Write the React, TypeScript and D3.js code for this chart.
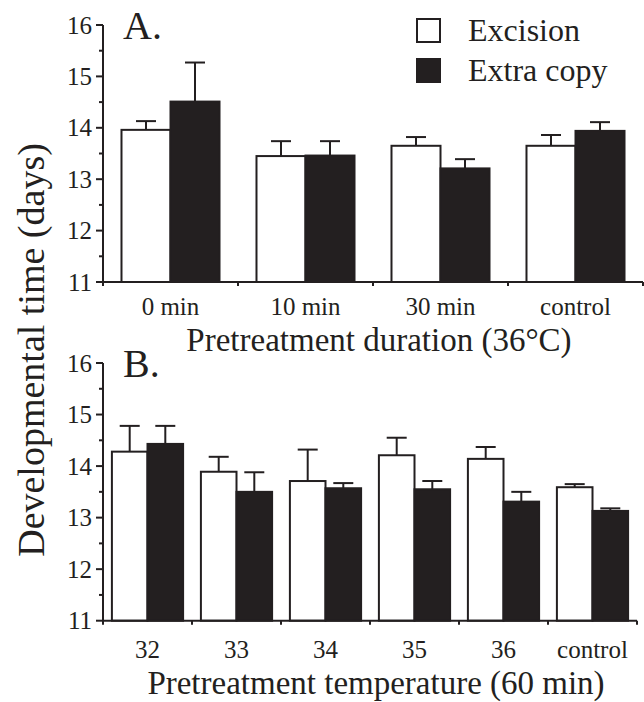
import React from 'react';
import * as d3 from 'd3';

// Panel A: pretreatment duration at 36°C
const durationCats = ['0 min', '10 min', '30 min', 'control'];
const durExcision = [13.96, 13.45, 13.65, 13.65];
const durExcisionErr = [0.17, 0.29, 0.17, 0.21];
const durExtra = [14.51, 13.46, 13.21, 13.94];
const durExtraErr = [0.76, 0.28, 0.18, 0.17];

// Panel B: pretreatment temperature for 60 min
const tempCats = ['32', '33', '34', '35', '36', 'control'];
const tempExcision = [14.28, 13.89, 13.71, 14.21, 14.14, 13.59];
const tempExcisionErr = [0.5, 0.29, 0.61, 0.34, 0.23, 0.06];
const tempExtra = [14.43, 13.5, 13.57, 13.55, 13.31, 13.13];
const tempExtraErr = [0.35, 0.38, 0.1, 0.16, 0.19, 0.05];

const yTicks = [11, 12, 13, 14, 15, 16];
const yMinor = [11.5, 12.5, 13.5, 14.5, 15.5];

const INK = '#231f20';
const FONT = '"Liberation Serif", "Times New Roman", serif';

type PanelProps = {
  cats: string[];
  exc: number[];
  excErr: number[];
  ext: number[];
  extErr: number[];
  x0: number;
  x1: number;
  top: number;
  bottom: number;
  padInner: number;
  letter: string;
  xLabel: string;
  catY: number;
  labelY: number;
};

const Panel = ({ cats, exc, excErr, ext, extErr, x0, x1, top, bottom, padInner, letter, xLabel, catY, labelY }: PanelProps) => {
  const x = d3.scaleBand<string>().domain(cats).range([x0, x1]).paddingInner(padInner).paddingOuter(padInner / 2);
  const sub = d3.scaleBand<string>().domain(['exc', 'ext']).range([0, x.bandwidth()]);
  const y = d3.scaleLinear().domain([11, 16]).range([bottom, top]);
  const step = x.step();
  const bounds = d3.range(cats.length + 1).map(i => x0 + i * step);
  const capW = 20;

  const series = [
    { key: 'exc', vals: exc, errs: excErr, fill: '#fff' },
    { key: 'ext', vals: ext, errs: extErr, fill: INK },
  ];

  return (
    <g>
      {/* error bars first so bars cover their base */}
      {series.map(s =>
        cats.map((c, i) => {
          const cx = (x(c) as number) + (sub(s.key) as number) + sub.bandwidth() / 2;
          const yt = y(s.vals[i] + s.errs[i]);
          return (
            <g key={s.key + c + 'e'} stroke={INK} strokeWidth={2}>
              <line x1={cx} x2={cx} y1={y(s.vals[i])} y2={yt} />
              <line x1={cx - capW / 2} x2={cx + capW / 2} y1={yt} y2={yt} />
            </g>
          );
        })
      )}
      {series.map(s =>
        cats.map((c, i) => (
          <rect
            key={s.key + c}
            x={(x(c) as number) + (sub(s.key) as number)}
            y={y(s.vals[i])}
            width={sub.bandwidth()}
            height={y(11) - y(s.vals[i])}
            fill={s.fill}
            stroke={INK}
            strokeWidth={2}
          />
        ))
      )}

      {/* y axis */}
      <line x1={x0} x2={x0} y1={y(16)} y2={y(11)} stroke={INK} strokeWidth={2} />
      {yTicks.map(t => (
        <g key={t}>
          <line x1={x0 - 7} x2={x0} y1={y(t)} y2={y(t)} stroke={INK} strokeWidth={2} />
          <text x={x0 - 11} y={y(t)} dy="0.34em" textAnchor="end" fontSize={25} fill={INK}>{t}</text>
        </g>
      ))}
      {yMinor.map(t => (
        <line key={t} x1={x0 - 4} x2={x0} y1={y(t)} y2={y(t)} stroke={INK} strokeWidth={2} />
      ))}

      {/* x axis */}
      <line x1={x0} x2={x1} y1={y(11)} y2={y(11)} stroke={INK} strokeWidth={2} />
      {bounds.map((b, i) => (
        <line key={i} x1={b} x2={b} y1={y(11)} y2={y(11) + 4} stroke={INK} strokeWidth={2} />
      ))}
      {cats.map(c => (
        <text key={c} x={(x(c) as number) + x.bandwidth() / 2} y={catY} textAnchor="middle" fontSize={25} fill={INK}>{c}</text>
      ))}
      <text x={(x0 + x1) / 2 + 6} y={labelY} textAnchor="middle" fontSize={33} fill={INK}>{xLabel}</text>

      <text x={x0 + 20} y={top + 14} fontSize={40} fill={INK}>{letter}</text>
    </g>
  );
};

export default function App() {
  return (
    <svg width={644} height={702} style={{ position: 'absolute', left: 0, top: 0, background: '#fff' }} fontFamily={FONT}>
      <rect width={644} height={702} fill="#fff" />
      <Panel
        cats={durationCats}
        exc={durExcision}
        excErr={durExcisionErr}
        ext={durExtra}
        extErr={durExtraErr}
        x0={103}
        x1={643}
        top={25}
        bottom={282}
        padInner={0.274}
        letter="A."
        xLabel="Pretreatment duration (36°C)"
        catY={315}
        labelY={351}
      />
      <Panel
        cats={tempCats}
        exc={tempExcision}
        excErr={tempExcisionErr}
        ext={tempExtra}
        extErr={tempExtraErr}
        x0={103}
        x1={637}
        top={363}
        bottom={620.7}
        padInner={0.2}
        letter="B."
        xLabel="Pretreatment temperature (60 min)"
        catY={658}
        labelY={694}
      />

      {/* legend */}
      <rect x={417} y={19} width={23} height={23} fill="#fff" stroke={INK} strokeWidth={2} />
      <rect x={416} y={58} width={25} height={25} fill={INK} />
      <text x={468} y={41} fontSize={32} fill={INK}>Excision</text>
      <text x={468} y={81} fontSize={32} fill={INK}>Extra copy</text>

      <text transform="translate(44,350) rotate(-90)" textAnchor="middle" fontSize={38} fill={INK}>
        Developmental time (days)
      </text>
    </svg>
  );
}
